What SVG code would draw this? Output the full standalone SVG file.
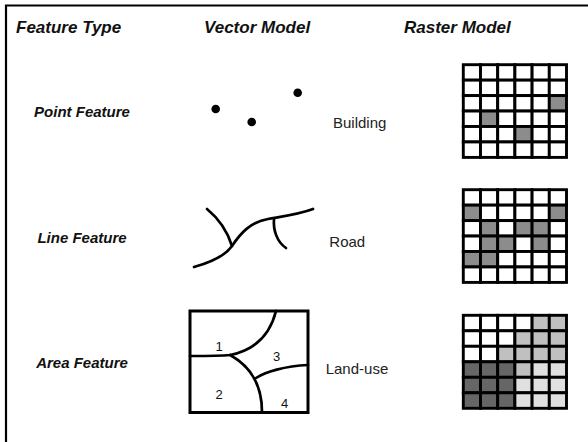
<svg xmlns="http://www.w3.org/2000/svg" width="588" height="442" viewBox="0 0 588 442">
<style>
.hdr{font-family:"Liberation Sans",Arial,sans-serif;font-weight:bold;font-style:italic;font-size:17px;fill:#111}
.row{font-family:"Liberation Sans",Arial,sans-serif;font-weight:bold;font-style:italic;font-size:15px;fill:#111;text-anchor:middle}
.lbl{font-family:"Liberation Sans",Arial,sans-serif;font-size:15px;fill:#222}
.num{font-family:"Liberation Sans",Arial,sans-serif;font-size:13px;fill:#111;text-anchor:middle}
.ln{fill:none;stroke:#000;stroke-width:2.7;stroke-linecap:round;stroke-linejoin:round}
.c rect{stroke:#000;stroke-width:2.9}
.w{fill:#fff}.g{fill:#8c8c8c}.d{fill:#666}.l{fill:#c0c0c0}.v{fill:#e0e0e0}
</style>
<rect width="588" height="442" fill="#fff"/>
<g id="frame"><path d="M6,442 V5.5 H588" fill="none" stroke="#000" stroke-width="2.2"/></g>
<g id="headers">
<text class="hdr" x="16" y="33">Feature Type</text>
<text class="hdr" x="204" y="33">Vector Model</text>
<text class="hdr" x="404" y="33">Raster Model</text>
</g>
<g id="row-labels">
<text class="row" x="82" y="116.5">Point Feature</text>
<text class="row" x="82" y="243">Line Feature</text>
<text class="row" x="82" y="367.5">Area Feature</text>
</g>
<g id="vector-point">
<circle cx="215.7" cy="109" r="4.3"/>
<circle cx="251.7" cy="122" r="4.3"/>
<circle cx="297.7" cy="92.7" r="4.3"/>
<text class="lbl" x="333" y="127.5">Building</text>
</g>
<g id="vector-line">
<path class="ln" d="M194,267 C212,262 225,256 232,246 C240,234 250,222 268,219 C285,216 300,214 313,209"/>
<path class="ln" d="M207,209 C218,218 227,230 232,246"/>
<path class="ln" d="M274,219 C273,230 277,242 286,248"/>
<text class="lbl" x="329.3" y="246.7">Road</text>
</g>
<g id="vector-area">
<rect x="190" y="311" width="118" height="101.5" fill="none" stroke="#000" stroke-width="3"/>
<path class="ln" d="M190,356 C205,356 220,356 230,355 C255,350 270,335 276,311"/>
<path class="ln" d="M230,355 C250,366 262,385 262,412"/>
<path class="ln" d="M256,378 C265,372 285,366 308,365"/>
<text class="num" x="219" y="350.7">1</text>
<text class="num" x="219" y="399.3">2</text>
<text class="num" x="276.7" y="361">3</text>
<text class="num" x="284.5" y="408.3">4</text>
<text class="lbl" x="325.7" y="374.3">Land-use</text>
</g>
<g id="raster-point" class="c" transform="translate(463.3,64.7)">
<rect class="w" x="0" y="0" width="17.2" height="15.45"/><rect class="w" x="17.2" y="0" width="17.2" height="15.45"/><rect class="w" x="34.4" y="0" width="17.2" height="15.45"/><rect class="w" x="51.6" y="0" width="17.2" height="15.45"/><rect class="w" x="68.8" y="0" width="17.2" height="15.45"/><rect class="w" x="86" y="0" width="17.2" height="15.45"/>
<rect class="w" x="0" y="15.45" width="17.2" height="15.45"/><rect class="w" x="17.2" y="15.45" width="17.2" height="15.45"/><rect class="w" x="34.4" y="15.45" width="17.2" height="15.45"/><rect class="w" x="51.6" y="15.45" width="17.2" height="15.45"/><rect class="w" x="68.8" y="15.45" width="17.2" height="15.45"/><rect class="w" x="86" y="15.45" width="17.2" height="15.45"/>
<rect class="w" x="0" y="30.9" width="17.2" height="15.45"/><rect class="w" x="17.2" y="30.9" width="17.2" height="15.45"/><rect class="w" x="34.4" y="30.9" width="17.2" height="15.45"/><rect class="w" x="51.6" y="30.9" width="17.2" height="15.45"/><rect class="w" x="68.8" y="30.9" width="17.2" height="15.45"/><rect class="g" x="86" y="30.9" width="17.2" height="15.45"/>
<rect class="w" x="0" y="46.35" width="17.2" height="15.45"/><rect class="g" x="17.2" y="46.35" width="17.2" height="15.45"/><rect class="w" x="34.4" y="46.35" width="17.2" height="15.45"/><rect class="w" x="51.6" y="46.35" width="17.2" height="15.45"/><rect class="w" x="68.8" y="46.35" width="17.2" height="15.45"/><rect class="w" x="86" y="46.35" width="17.2" height="15.45"/>
<rect class="w" x="0" y="61.8" width="17.2" height="15.45"/><rect class="w" x="17.2" y="61.8" width="17.2" height="15.45"/><rect class="w" x="34.4" y="61.8" width="17.2" height="15.45"/><rect class="g" x="51.6" y="61.8" width="17.2" height="15.45"/><rect class="w" x="68.8" y="61.8" width="17.2" height="15.45"/><rect class="w" x="86" y="61.8" width="17.2" height="15.45"/>
<rect class="w" x="0" y="77.25" width="17.2" height="15.45"/><rect class="w" x="17.2" y="77.25" width="17.2" height="15.45"/><rect class="w" x="34.4" y="77.25" width="17.2" height="15.45"/><rect class="w" x="51.6" y="77.25" width="17.2" height="15.45"/><rect class="w" x="68.8" y="77.25" width="17.2" height="15.45"/><rect class="w" x="86" y="77.25" width="17.2" height="15.45"/>
</g>
<g id="raster-line" class="c" transform="translate(463.3,189.7)">
<rect class="w" x="0" y="0" width="17.2" height="15.45"/><rect class="w" x="17.2" y="0" width="17.2" height="15.45"/><rect class="w" x="34.4" y="0" width="17.2" height="15.45"/><rect class="w" x="51.6" y="0" width="17.2" height="15.45"/><rect class="w" x="68.8" y="0" width="17.2" height="15.45"/><rect class="w" x="86" y="0" width="17.2" height="15.45"/>
<rect class="g" x="0" y="15.45" width="17.2" height="15.45"/><rect class="w" x="17.2" y="15.45" width="17.2" height="15.45"/><rect class="w" x="34.4" y="15.45" width="17.2" height="15.45"/><rect class="w" x="51.6" y="15.45" width="17.2" height="15.45"/><rect class="w" x="68.8" y="15.45" width="17.2" height="15.45"/><rect class="g" x="86" y="15.45" width="17.2" height="15.45"/>
<rect class="w" x="0" y="30.9" width="17.2" height="15.45"/><rect class="g" x="17.2" y="30.9" width="17.2" height="15.45"/><rect class="w" x="34.4" y="30.9" width="17.2" height="15.45"/><rect class="g" x="51.6" y="30.9" width="17.2" height="15.45"/><rect class="g" x="68.8" y="30.9" width="17.2" height="15.45"/><rect class="w" x="86" y="30.9" width="17.2" height="15.45"/>
<rect class="w" x="0" y="46.35" width="17.2" height="15.45"/><rect class="g" x="17.2" y="46.35" width="17.2" height="15.45"/><rect class="g" x="34.4" y="46.35" width="17.2" height="15.45"/><rect class="w" x="51.6" y="46.35" width="17.2" height="15.45"/><rect class="g" x="68.8" y="46.35" width="17.2" height="15.45"/><rect class="w" x="86" y="46.35" width="17.2" height="15.45"/>
<rect class="g" x="0" y="61.8" width="17.2" height="15.45"/><rect class="g" x="17.2" y="61.8" width="17.2" height="15.45"/><rect class="w" x="34.4" y="61.8" width="17.2" height="15.45"/><rect class="w" x="51.6" y="61.8" width="17.2" height="15.45"/><rect class="w" x="68.8" y="61.8" width="17.2" height="15.45"/><rect class="w" x="86" y="61.8" width="17.2" height="15.45"/>
<rect class="w" x="0" y="77.25" width="17.2" height="15.45"/><rect class="w" x="17.2" y="77.25" width="17.2" height="15.45"/><rect class="w" x="34.4" y="77.25" width="17.2" height="15.45"/><rect class="w" x="51.6" y="77.25" width="17.2" height="15.45"/><rect class="w" x="68.8" y="77.25" width="17.2" height="15.45"/><rect class="w" x="86" y="77.25" width="17.2" height="15.45"/>
</g>
<g id="raster-area" class="c" transform="translate(463.3,315.3)">
<rect class="w" x="0" y="0" width="17.2" height="15.5"/><rect class="w" x="17.2" y="0" width="17.2" height="15.5"/><rect class="w" x="34.4" y="0" width="17.2" height="15.5"/><rect class="w" x="51.6" y="0" width="17.2" height="15.5"/><rect class="l" x="68.8" y="0" width="17.2" height="15.5"/><rect class="l" x="86" y="0" width="17.2" height="15.5"/>
<rect class="w" x="0" y="15.5" width="17.2" height="15.5"/><rect class="w" x="17.2" y="15.5" width="17.2" height="15.5"/><rect class="w" x="34.4" y="15.5" width="17.2" height="15.5"/><rect class="l" x="51.6" y="15.5" width="17.2" height="15.5"/><rect class="l" x="68.8" y="15.5" width="17.2" height="15.5"/><rect class="l" x="86" y="15.5" width="17.2" height="15.5"/>
<rect class="w" x="0" y="31" width="17.2" height="15.5"/><rect class="w" x="17.2" y="31" width="17.2" height="15.5"/><rect class="l" x="34.4" y="31" width="17.2" height="15.5"/><rect class="l" x="51.6" y="31" width="17.2" height="15.5"/><rect class="l" x="68.8" y="31" width="17.2" height="15.5"/><rect class="l" x="86" y="31" width="17.2" height="15.5"/>
<rect class="d" x="0" y="46.5" width="17.2" height="15.5"/><rect class="d" x="17.2" y="46.5" width="17.2" height="15.5"/><rect class="d" x="34.4" y="46.5" width="17.2" height="15.5"/><rect class="l" x="51.6" y="46.5" width="17.2" height="15.5"/><rect class="v" x="68.8" y="46.5" width="17.2" height="15.5"/><rect class="v" x="86" y="46.5" width="17.2" height="15.5"/>
<rect class="d" x="0" y="62" width="17.2" height="15.5"/><rect class="d" x="17.2" y="62" width="17.2" height="15.5"/><rect class="d" x="34.4" y="62" width="17.2" height="15.5"/><rect class="v" x="51.6" y="62" width="17.2" height="15.5"/><rect class="v" x="68.8" y="62" width="17.2" height="15.5"/><rect class="v" x="86" y="62" width="17.2" height="15.5"/>
<rect class="d" x="0" y="77.5" width="17.2" height="15.5"/><rect class="d" x="17.2" y="77.5" width="17.2" height="15.5"/><rect class="d" x="34.4" y="77.5" width="17.2" height="15.5"/><rect class="v" x="51.6" y="77.5" width="17.2" height="15.5"/><rect class="v" x="68.8" y="77.5" width="17.2" height="15.5"/><rect class="v" x="86" y="77.5" width="17.2" height="15.5"/>
</g>
</svg>
